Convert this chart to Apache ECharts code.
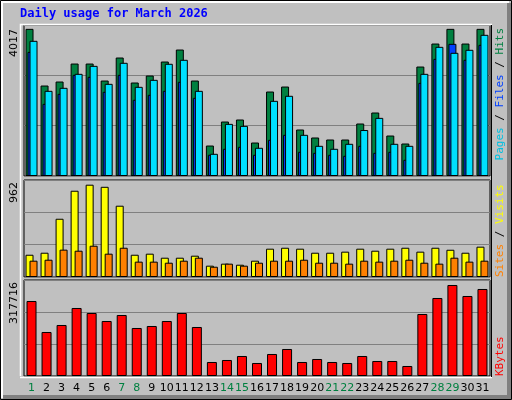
<!DOCTYPE html>
<html>
<head>
<meta charset="utf-8">
<script src="https://cdn.jsdelivr.net/npm/echarts@6/dist/echarts.min.js"></script>
<style>
  html, body { margin: 0; padding: 0; background: #c0c0c0; }
  #main { width: 512px; height: 400px; }
</style>
</head>
<body>
<div id="main"></div>
<script>
// days of the month, weekends drawn in green
var days = [];
for (var d = 1; d <= 31; d++) days.push(String(d));
var weekend = ['1', '7', '8', '14', '15', '21', '22', '28', '29'];

var hits = [4017, 2470, 2579, 3070, 3070, 2606, 3234, 2552, 2743, 3125, 3452, 2606, 832, 1487, 1542, 914,
  2306, 2442, 1269, 1051, 996, 996, 1433, 1733, 1105, 887, 2988, 3616, 4017, 3616, 4017];
var files = [3690, 2325, 2407, 2789, 3007, 2516, 3090, 2434, 2625, 3063, 3172, 2325, 606, 1423, 1368, 770,
  2052, 2189, 1124, 824, 743, 879, 1255, 1587, 879, 824, 2789, 3526, 3363, 3445, 3854];
var pages = [3389, 1970, 2243, 2761, 2707, 2298, 2761, 2080, 2216, 2325, 2571, 2134, 579, 743, 797, 579,
  988, 1124, 661, 633, 579, 552, 824, 633, 661, 442, 2543, 3198, 3608, 3172, 3581];
var visits = [232, 253, 607, 899, 962, 940, 743, 232, 243, 201, 201, 222, 118, 139, 128, 170,
  295, 305, 295, 253, 253, 264, 295, 274, 295, 305, 264, 305, 284, 253, 316];
var sites = [170, 180, 285, 274, 326, 243, 305, 160, 160, 149, 170, 201, 107, 139, 118, 149,
  170, 170, 180, 149, 149, 139, 170, 160, 170, 180, 149, 139, 201, 160, 170];
var kbytes = [261855, 153622, 178062, 237415, 219958, 192031, 212975, 167590, 174571, 192031, 219958, 171081,
  48880, 55862, 69828, 45389, 76810, 94268, 48880, 59354, 48880, 45389, 69828, 52371, 52371, 34914,
  216468, 272329, 317716, 279312, 303752];
var maxLabels = ['4017', '962', '317716'];

var chart = echarts.init(document.getElementById('main'));
var font = 'DejaVu Sans';
var L = 24, W = 466;
var panels = [{ top: 25, height: 151 }, { top: 180, height: 97 }, { top: 280, height: 96 }];
var axMax = [4122, 1011, 335151];

var grids = panels.map(function (p) {
  return { left: L, width: W, top: p.top, height: p.height, show: true,
    borderColor: '#000', borderWidth: 1, backgroundColor: '#c0c0c0' };
});
var xAxes = panels.map(function (p, i) {
  return {
    type: 'category', gridIndex: i, data: days,
    axisLine: { show: false }, axisTick: { show: false },
    axisLabel: {
      show: i == 2, margin: 7, interval: 0, fontFamily: font, fontSize: 11,
      formatter: function (v) { return weekend.indexOf(v) >= 0 ? '{g|' + v + '}' : '{n|' + v + '}'; },
      rich: { g: { color: '#008040', fontFamily: font, fontSize: 11 }, n: { color: '#000', fontFamily: font, fontSize: 11 } }
    }
  };
});
var yAxes = axMax.map(function (m, i) {
  return {
    type: 'value', gridIndex: i, min: 0, max: m, interval: m / 3,
    axisLabel: { show: false }, axisLine: { show: false }, axisTick: { show: false },
    splitLine: { show: true, lineStyle: { color: '#808080', width: 1 } }
  };
});

function bar(name, data, color, gi, width, gap) {
  return {
    name: name, type: 'bar', data: data, xAxisIndex: gi, yAxisIndex: gi,
    barWidth: width, barGap: gap, animation: false,
    itemStyle: { color: color, borderColor: '#000', borderWidth: 1 }
  };
}

function vtext(x, y, align, rich, str) {
  return {
    type: 'text', x: x, y: y, rotation: Math.PI / 2, z: 10,
    style: { text: str, textAlign: align, textVerticalAlign: 'middle', font: '11px ' + font, fill: '#000', rich: rich }
  };
}
var mono = 'DejaVu Sans Mono';
var rr = function (c) { return { fill: c, font: '11px ' + mono }; };

chart.setOption({
  backgroundColor: '#c0c0c0',
  grid: grids,
  xAxis: xAxes,
  yAxis: yAxes,
  series: [
    bar('Hits', hits, '#008040', 0, 8, '-75%'),
    bar('Pages', pages, '#0040ff', 0, 8, '-75%'),
    bar('Files', files, '#00e0ff', 0, 8, '-75%'),
    bar('Visits', visits, '#ffff00', 1, 8, '-50%'),
    bar('Sites', sites, '#ff8000', 1, 8, '-50%'),
    bar('KBytes', kbytes, '#ff0000', 2, 10, '0%')
  ],
  graphic: [
    { type: 'rect', shape: { x: 0.5, y: 0.5, width: 511, height: 399 }, style: { fill: 'none', stroke: '#000' } },
    { type: 'polyline', shape: { points: [[2, 398], [2, 2], [509, 2]] }, style: { stroke: '#fff', lineWidth: 2, fill: 'none' } },
    { type: 'line', shape: { x1: 509, y1: 3, x2: 509, y2: 398 }, style: { stroke: '#808080', lineWidth: 4 } },
    { type: 'line', shape: { x1: 3, y1: 397, x2: 511, y2: 397 }, style: { stroke: '#808080', lineWidth: 4 } },
    { type: 'polyline', z: 5, shape: { points: [[20.5, 376], [20.5, 24.5], [492, 24.5]] }, style: { stroke: '#fff', lineWidth: 1.5, fill: 'none' } },
    { type: 'line', z: 5, shape: { x1: 20, y1: 377.5, x2: 492, y2: 377.5 }, style: { stroke: '#fff', lineWidth: 1.5 } },
    { type: 'line', z: 5, shape: { x1: 491.5, y1: 25, x2: 491.5, y2: 377 }, style: { stroke: '#000', lineWidth: 1 } },
    { type: 'text', x: 20, y: 14, style: { text: 'Daily usage for March 2026', font: 'bold 12px ' + mono, fill: '#0000ff', textVerticalAlign: 'middle' } },
    vtext(14, 29, 'right', {}, maxLabels[0]),
    vtext(14, 182, 'right', {}, maxLabels[1]),
    vtext(14, 282, 'right', {}, maxLabels[2]),
    vtext(500, 28, 'right', { p: rr('#00c0e0'), f: rr('#0040ff'), h: rr('#008040'), s: rr('#000') },
      '{p|Pages}{s| / }{f|Files}{s| / }{h|Hits}'),
    vtext(500, 277, 'left', { a: rr('#ff8000'), v: rr('#ffff00'), s: rr('#000') },
      '{a|Sites}{s| / }{v|Visits}'),
    vtext(500, 376, 'left', { k: rr('#ff0000') }, '{k|KBytes}')
  ]
});
</script>
</body>
</html>
